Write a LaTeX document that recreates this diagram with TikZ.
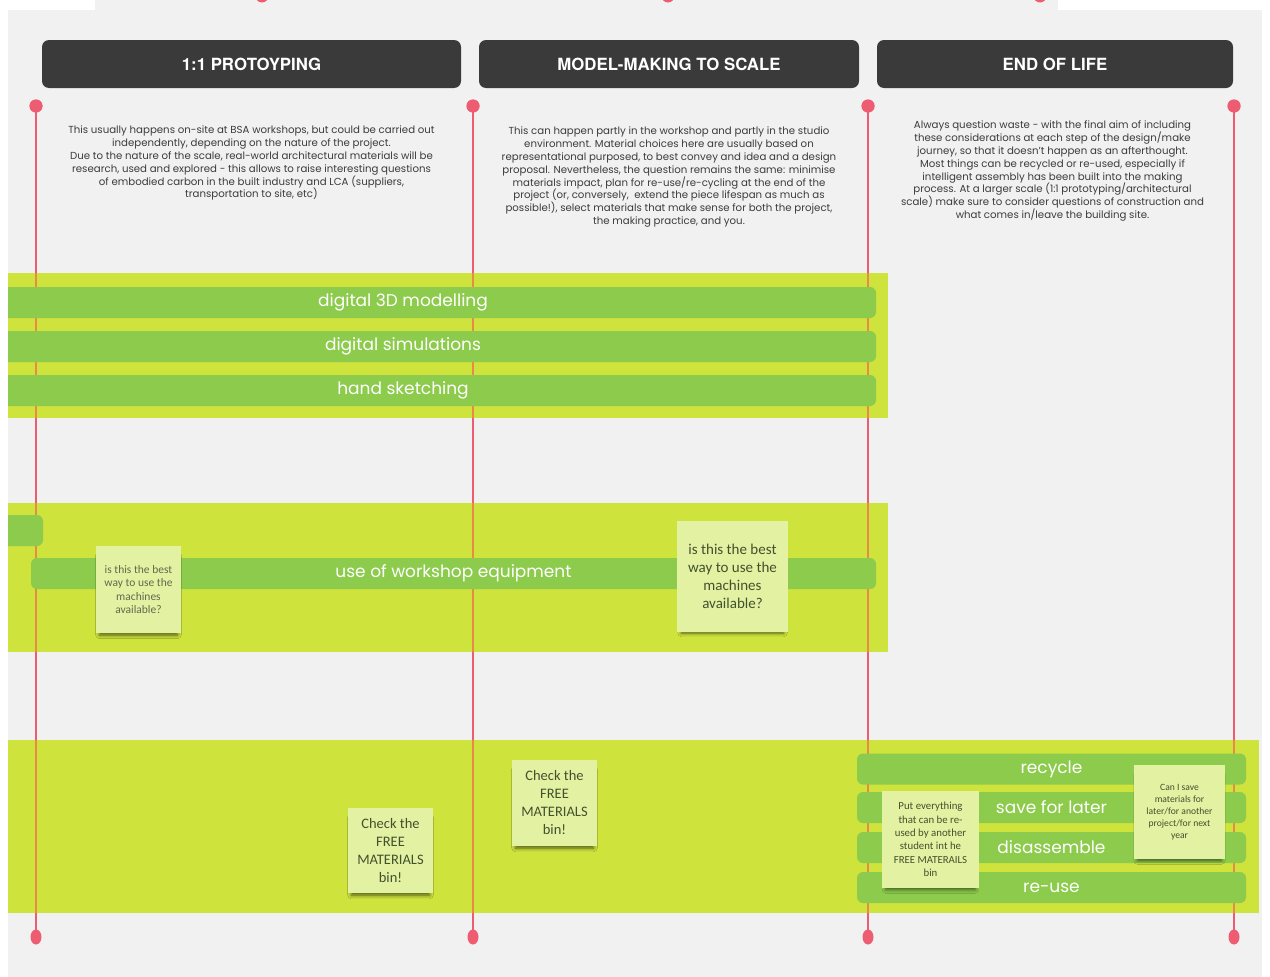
\documentclass[tikz,border=0pt]{standalone}
\usepackage{fontspec}
\setmainfont{Poppins}
\newfontfamily\headfont{TeX Gyre Heros}
\newfontfamily\notefont{Carlito}
\usetikzlibrary{shapes.geometric,shadows.blur}

\definecolor{bggray}{HTML}{F1F1F1}
\definecolor{headc}{HTML}{3A3A3A}
\definecolor{redline}{HTML}{EE5C72}
\definecolor{orangeline}{HTML}{E88A48}
\definecolor{limeband}{HTML}{CFE33D}
\definecolor{bargreen}{HTML}{8CCB4B}
\definecolor{notefill}{HTML}{E2F2A2}
\definecolor{notetext}{HTML}{44502E}
\definecolor{paratext}{HTML}{3C3C3C}

\tikzset{
  headbox/.style={fill=headc, rounded corners=7pt, text=white, inner sep=0pt,
    minimum height=48pt, font=\headfont\bfseries\fontsize{16.8}{18}\selectfont},
  para/.style={anchor=north, align=center, inner sep=0pt, text=paratext,
    font=\fontsize{10.2}{12.8}\selectfont},
  topdot/.style={circle, fill=redline, minimum size=13pt, inner sep=0pt},
  botdot/.style={ellipse, fill=redline, minimum width=11pt, minimum height=15pt, inner sep=0pt},
  rline/.style={draw=redline, line width=2.2pt},
  oline/.style={draw=orangeline, line width=2.2pt},
  bar/.style={fill=bargreen, rounded corners=6pt, text=white, inner sep=0pt,
    minimum height=31pt, font=\fontsize{17}{18}\selectfont},
  note/.style={fill=notefill, inner sep=0pt, align=center, text=notetext,
    blur shadow={shadow xshift=0pt, shadow yshift=-6pt, shadow scale=0.92,
      shadow opacity=60, shadow blur radius=4pt}},
}

\begin{document}
\begin{tikzpicture}[x=1pt,y=-1pt]
\useasboundingbox (0,0) rectangle (1270,977);

% page and canvas
\fill[white] (0,0) rectangle (1270,977);
\fill[bggray] (8,10) rectangle (1262,977);
\fill[bggray] (95,0) rectangle (1058,10);

% ends of the timelines of the section above
\begin{scope}
  \clip (95,0) rectangle (1058,10);
  \node[topdot] (u1) at (262,-4) {};
  \node[topdot] (u2) at (668,-4) {};
  \node[topdot] (u3) at (1040,-4) {};
\end{scope}

% timeline end points
\node[topdot] (t1) at (36,106) {};
\node[topdot] (t2) at (473,106) {};
\node[topdot] (t3) at (868,106) {};
\node[topdot] (t4) at (1234,106) {};
\node[botdot] (b1) at (36,937) {};
\node[botdot] (b2) at (473,937) {};
\node[botdot] (b3) at (868,937) {};
\node[botdot] (b4) at (1234,937) {};

% timelines
\foreach \i in {1,...,4} \draw[rline] (t\i.center) -- (b\i.center);

% lime bands
\fill[limeband] (8,273) rectangle (888,418);
\fill[limeband] (8,503) rectangle (888,652);
\fill[limeband] (8,740) rectangle (1259,913);

% timelines seen through the bands
\begin{scope}
  \clip (8,273) rectangle (888,418) (8,503) rectangle (888,652) (8,740) rectangle (1259,913);
  \foreach \i in {1,...,4} \draw[oline] (t\i.center) -- (b\i.center);
\end{scope}

% redraw the dots over the line ends
\foreach \i in {1,...,4} {
  \fill[redline] (t\i) circle[radius=6.5pt];
}

% activity bars
\begin{scope}
  \clip (8,0) rectangle (1262,977);
  \node[bar, minimum width=946pt] (m3d) at (403,302.5) {digital 3D modelling};
  \node[bar, minimum width=946pt] (sim) at (403,346.5) {digital simulations};
  \node[bar, minimum width=946pt] (hand) at (403,390.5) {hand sketching};
  \node[bar, minimum width=93pt] (stub) at (-3.5,530.5) {};
\end{scope}
\node[bar, minimum width=845pt] (shop) at (453.5,573.5) {use of workshop equipment};
\node[bar, minimum width=389pt] (recycle) at (1051.5,769) {recycle};
\node[bar, minimum width=389pt] (save) at (1051.5,807.5) {save for later};
\node[bar, minimum width=389pt] (disas) at (1051.5,847.5) {disassemble};
\node[bar, minimum width=389pt] (reuse) at (1051.5,887.5) {re-use};

% sticky notes
\node[note, minimum width=85pt, minimum height=87pt, text=notetext!85,
  font=\notefont\fontsize{11.5}{13.5}\selectfont] (q1) at (138.5,589.5)
  {is this the best\\way to use the\\machines\\available?};
\node[note, minimum width=111pt, minimum height=111pt,
  font=\notefont\fontsize{15}{18}\selectfont] (q2) at (732.5,576.5)
  {is this the best\\way to use the\\machines\\available?};
\node[note, minimum width=85pt, minimum height=85pt,
  font=\notefont\fontsize{14.5}{18}\selectfont] (f1) at (390.5,850.5)
  {Check the\\FREE\\MATERIALS\\bin!};
\node[note, minimum width=85pt, minimum height=86pt,
  font=\notefont\fontsize{14.5}{18}\selectfont] (f2) at (554.5,803)
  {Check the\\FREE\\MATERIALS\\bin!};
\node[note, minimum width=97pt, minimum height=97pt,
  font=\notefont\fontsize{10.8}{13.3}\selectfont] (put) at (930.5,839.5)
  {Put everything\\that can be re-\\used by another\\student int he\\FREE MATERAILS\\bin};
\node[note, minimum width=91pt, minimum height=94pt,
  font=\notefont\fontsize{9.6}{12}\selectfont] (later) at (1179.5,812)
  {Can I save\\materials for\\later/for another\\project/for next\\year};

% stage headers
\node[headbox, minimum width=419pt] (h1) at (251.5,64) {1:1 PROTOYPING};
\node[headbox, minimum width=380pt] (h2) at (669,64) {MODEL-MAKING TO SCALE};
\node[headbox, minimum width=356pt] (h3) at (1055,64) {END OF LIFE};

% stage descriptions
\node[para] (d1) at (251.5,126) {This usually happens on-site at BSA workshops, but could be carried out\\
independently, depending on the nature of the project.\\
Due to the nature of the scale, real-world architectural materials will be\\
research, used and explored - this allows to raise interesting questions\\
of embodied carbon in the built industry and LCA (suppliers,\\
transportation to site, etc)};
\node[para] (d2) at (669,127) {This can happen partly in the workshop and partly in the studio\\
environment. Material choices here are usually based on\\
representational purposed, to best convey and idea and a design\\
proposal. Nevertheless, the question remains the same: minimise\\
materials impact, plan for re-use/re-cycling at the end of the\\
project (or, conversely,\ \ extend the piece lifespan as much as\\
possible!), select materials that make sense for both the project,\\
the making practice, and you.};
\node[para] (d3) at (1052.5,121) {Always question waste - with the final aim of including\\
these considerations at each step of the design/make\\
journey, so that it doesn't happen as an afterthought.\\
Most things can be recycled or re-used, especially if\\
intelligent assembly has been built into the making\\
process. At a larger scale (1:1 prototyping/architectural\\
scale) make sure to consider questions of construction and\\
what comes in/leave the building site.};
\end{tikzpicture}
\end{document}
